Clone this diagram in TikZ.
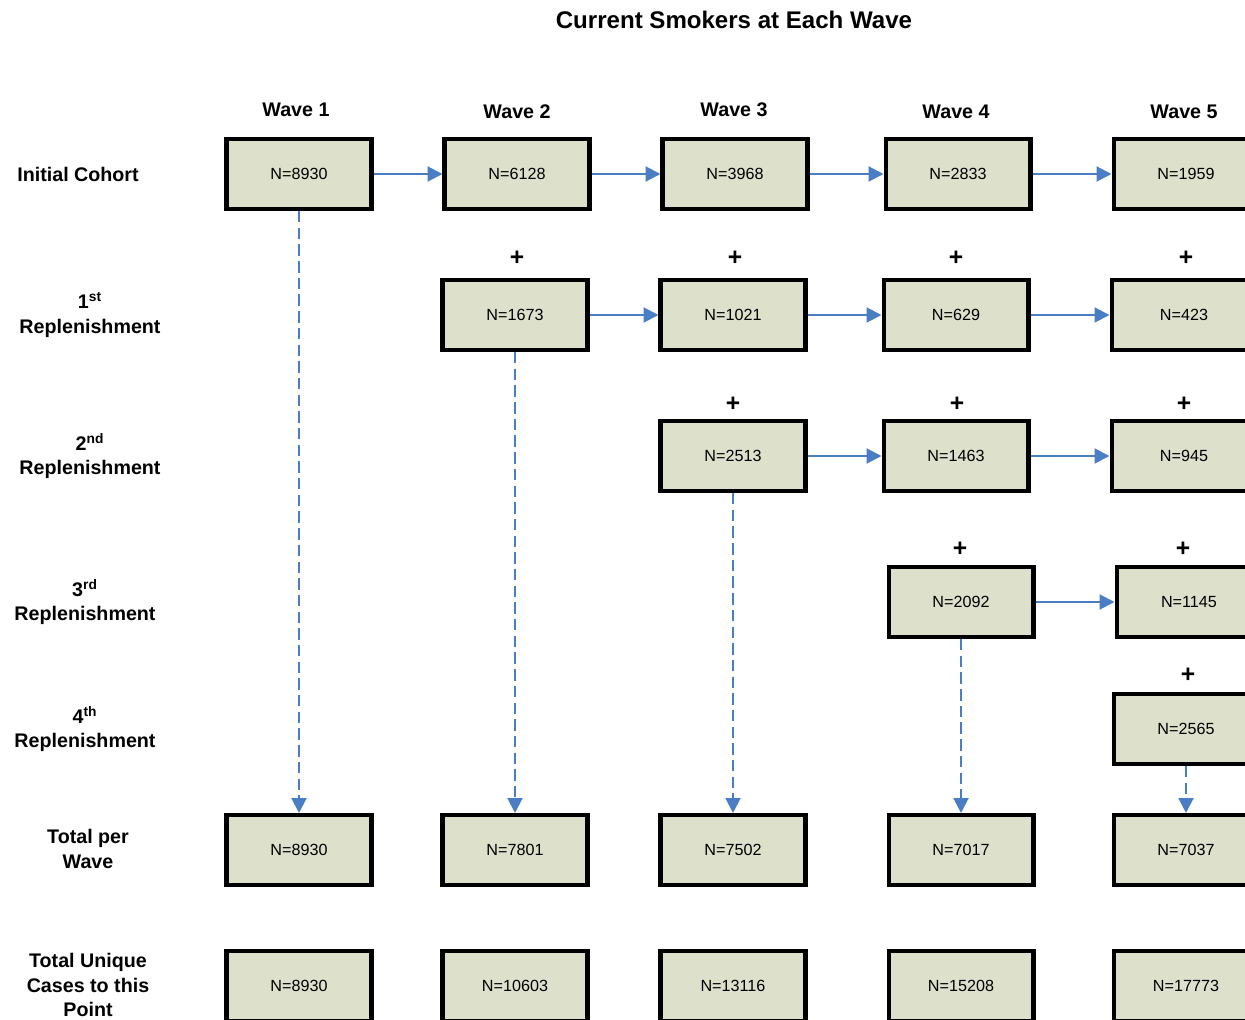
\documentclass[tikz,border=0pt]{standalone}
\usepackage{fontspec}
\setmainfont{Liberation Sans}
\usetikzlibrary{arrows.meta}
\definecolor{boxfill}{HTML}{DDE0CB}
\definecolor{flowblue}{HTML}{4A7EC4}

\begin{document}
\begin{tikzpicture}[x=0.02cm, y=-0.02cm,
  box/.style={draw, line width=2.3pt, fill=boxfill, minimum width=2.9cm, minimum height=1.4cm, inner sep=0pt, font=\fontsize{9.2}{11}\selectfont},
  flow/.style={-{Triangle[length=8.5pt, width=8.5pt]}, line width=1.2pt, color=flowblue},
  carry/.style={flow, dash pattern=on 6.5pt off 3pt},
  rowlabel/.style={align=center, font=\fontsize{11.2}{14}\selectfont\bfseries},
  wavelabel/.style={font=\fontsize{11.2}{13.6}\selectfont\bfseries},
  plus/.style={font=\fontsize{14}{16}\selectfont\bfseries}]

\useasboundingbox (0,0) rectangle (1245,1020);

\node[font=\fontsize{13.7}{16}\selectfont\bfseries] (title) at (734,20) {Current Smokers at Each Wave};

\node[wavelabel] (wave 1) at (296,110) {Wave 1};
\node[wavelabel] (wave 2) at (517,112) {Wave 2};
\node[wavelabel] (wave 3) at (734,110) {Wave 3};
\node[wavelabel] (wave 4) at (956,112) {Wave 4};
\node[wavelabel] (wave 5) at (1184,112) {Wave 5};

\node[rowlabel] (cohort label) at (78,174) {Initial Cohort};
\node[rowlabel] (repl1 label) at (90,315) {1\textsuperscript{st}\\Replenishment};
\node[rowlabel] (repl2 label) at (90,456) {2\textsuperscript{nd}\\Replenishment};
\node[rowlabel] (repl3 label) at (85,602) {3\textsuperscript{rd}\\Replenishment};
\node[rowlabel] (repl4 label) at (85,729) {4\textsuperscript{th}\\Replenishment};
\node[rowlabel] (total label) at (88,849) {Total per\\Wave};
\node[rowlabel] (unique label) at (88,985) {Total Unique\\Cases to this\\Point};

\node[box] (initial 1) at (299,174) {N=8930};
\node[box] (initial 2) at (517,174) {N=6128};
\node[box] (initial 3) at (735,174) {N=3968};
\node[box] (initial 4) at (958,174) {N=2833};
\node[box] (initial 5) at (1186,174) {N=1959};
\draw[flow] (initial 1.east) -- (initial 2.west);
\draw[flow] (initial 2.east) -- (initial 3.west);
\draw[flow] (initial 3.east) -- (initial 4.west);
\draw[flow] (initial 4.east) -- (initial 5.west);

\node[plus] (plus1 2) at (517,258) {+};
\node[plus] (plus1 3) at (735,258) {+};
\node[plus] (plus1 4) at (956,258) {+};
\node[plus] (plus1 5) at (1186,258) {+};
\node[box] (repl1 2) at (515,315) {N=1673};
\node[box] (repl1 3) at (733,315) {N=1021};
\node[box] (repl1 4) at (956,315) {N=629};
\node[box] (repl1 5) at (1184,315) {N=423};
\draw[flow] (repl1 2.east) -- (repl1 3.west);
\draw[flow] (repl1 3.east) -- (repl1 4.west);
\draw[flow] (repl1 4.east) -- (repl1 5.west);

\node[plus] (plus2 3) at (733,404) {+};
\node[plus] (plus2 4) at (957,404) {+};
\node[plus] (plus2 5) at (1184,404) {+};
\node[box] (repl2 3) at (733,456) {N=2513};
\node[box] (repl2 4) at (956,456) {N=1463};
\node[box] (repl2 5) at (1184,456) {N=945};
\draw[flow] (repl2 3.east) -- (repl2 4.west);
\draw[flow] (repl2 4.east) -- (repl2 5.west);

\node[plus] (plus3 4) at (960,549) {+};
\node[plus] (plus3 5) at (1183,549) {+};
\node[box] (repl3 4) at (961,602) {N=2092};
\node[box] (repl3 5) at (1189,602) {N=1145};
\draw[flow] (repl3 4.east) -- (repl3 5.west);

\node[plus] (plus4 5) at (1188,675) {+};
\node[box] (repl4 5) at (1186,729) {N=2565};

\node[box] (total 1) at (299,850) {N=8930};
\node[box] (total 2) at (515,850) {N=7801};
\node[box] (total 3) at (733,850) {N=7502};
\node[box] (total 4) at (961,850) {N=7017};
\node[box] (total 5) at (1186,850) {N=7037};

\draw[carry] (initial 1.south) -- (total 1.north);
\draw[carry] (repl1 2.south) -- (total 2.north);
\draw[carry] (repl2 3.south) -- (total 3.north);
\draw[carry] (repl3 4.south) -- (total 4.north);
\draw[carry] (repl4 5.south) -- (total 5.north);

\node[box] (unique 1) at (299,986) {N=8930};
\node[box] (unique 2) at (515,986) {N=10603};
\node[box] (unique 3) at (733,986) {N=13116};
\node[box] (unique 4) at (961,986) {N=15208};
\node[box] (unique 5) at (1186,986) {N=17773};
\end{tikzpicture}
\end{document}
